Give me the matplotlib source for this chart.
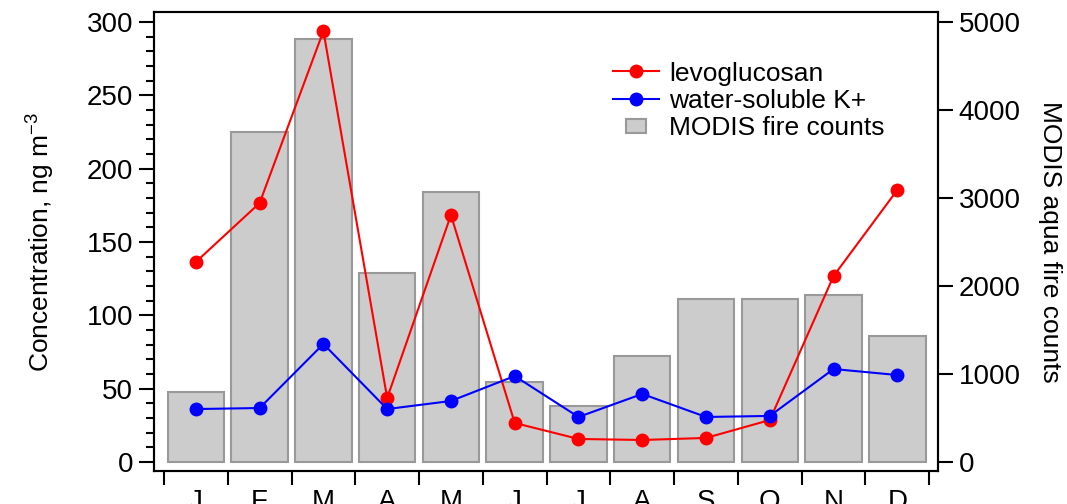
import numpy as np
import matplotlib.pyplot as plt
from matplotlib.ticker import FixedLocator
from matplotlib.legend_handler import HandlerPatch
from matplotlib.patches import Rectangle

plt.rcParams['font.family'] = ['Liberation Sans', 'DejaVu Sans']
plt.rcParams['mathtext.default'] = 'regular'

months = ['J', 'F', 'M', 'A', 'M', 'J', 'J', 'A', 'S', 'O', 'N', 'D']
levoglucosan = [136.4, 176.6, 293.9, 43.6, 168.4, 26.6, 15.7, 15.0, 16.4, 28.6, 126.8, 185.5]
potassium = [36.1, 36.8, 80.5, 36.1, 41.6, 58.6, 30.7, 46.4, 30.7, 31.4, 63.4, 59.3]
fire_counts = [795, 3750, 4807, 2148, 3068, 909, 636, 1205, 1852, 1852, 1898, 1432]

x = np.arange(len(months))


def small_box(legend, orig_handle, xdescent, ydescent, width, height, fontsize):
    # 图例中的小方块
    w = width * 0.45
    h = height * 0.75
    return Rectangle((width / 2 - w / 2 - xdescent, height / 2 - h / 2 - ydescent), w, h)


fig = plt.figure(figsize=(10.67, 5.04), dpi=100)
ax = fig.add_axes([0.1443, 0.0655, 0.879 - 0.1443, 0.976 - 0.0655])
ax2 = ax.twinx()

# 柱状图放在右轴，置于折线之后
bars = ax2.bar(x, fire_counts, width=0.885, color='#cccccc', edgecolor='#999999',
               linewidth=1.5, label='MODIS fire counts')
ax.set_zorder(ax2.get_zorder() + 1)
ax.patch.set_visible(False)

l1, = ax.plot(x, levoglucosan, '-o', color='#ff0000', lw=1.5, ms=9,
              label='levoglucosan')
l2, = ax.plot(x, potassium, '-o', color='#0000ff', lw=1.5, ms=9,
              label='water-soluble K+')

ax.set_xlim(-0.657, 11.636)
ax.set_ylim(-6.14, 306.8)
ax2.set_ylim(-102, 5114)

ax.yaxis.set_major_locator(FixedLocator([0, 50, 100, 150, 200, 250, 300]))
ax.yaxis.set_minor_locator(FixedLocator(np.arange(0, 301, 10)))
ax2.yaxis.set_major_locator(FixedLocator([0, 1000, 2000, 3000, 4000, 5000]))

ax.xaxis.set_major_locator(FixedLocator(np.arange(-0.5, 12, 1)))
ax.xaxis.set_minor_locator(FixedLocator(x))
ax.set_xticklabels([], minor=False)
ax.set_xticklabels(months, minor=True)

ax.tick_params(axis='y', which='major', direction='out', length=11, width=1.5,
               labelsize=20, pad=4)
ax.tick_params(axis='y', which='minor', direction='out', length=5.5, width=1.5)
ax2.tick_params(axis='y', which='major', direction='out', length=11, width=1.5,
                labelsize=20, pad=4)
ax.tick_params(axis='x', which='major', direction='out', length=10, width=1.5)
ax.tick_params(axis='x', which='minor', length=0, labelsize=20, pad=13)

for a in (ax, ax2):
    for s in a.spines.values():
        s.set_linewidth(1.5)

ax.set_ylabel('Concentration, ng m$^{-3}$', fontsize=19, labelpad=21)
ax2.set_ylabel('MODIS aqua fire counts', fontsize=19, rotation=-90, labelpad=30)

box_handle = bars.patches[0]
ax.legend(handles=[l1, l2, box_handle],
          labels=['levoglucosan', 'water-soluble K+', 'MODIS fire counts'],
          loc='upper left', bbox_to_anchor=(0.572, 0.915),
          frameon=False, fontsize=19, handlelength=1.75, handletextpad=0.38,
          labelspacing=0.12, borderaxespad=0,
          handler_map={box_handle: HandlerPatch(patch_func=small_box)})

fig.savefig('out.png', dpi=100)
